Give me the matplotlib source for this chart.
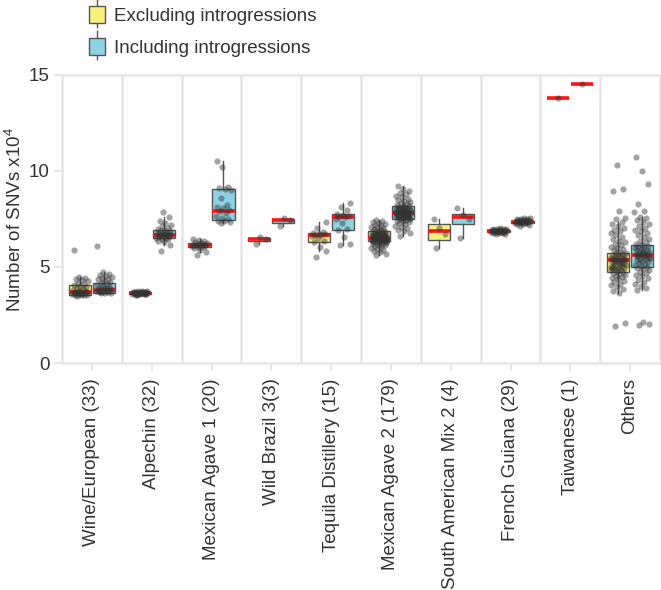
import numpy as np
import matplotlib.pyplot as plt
from matplotlib.lines import Line2D
from matplotlib.patches import Patch
from matplotlib.legend_handler import HandlerTuple

plt.rcParams['font.family'] = ['Liberation Sans', 'DejaVu Sans']
plt.rcParams['mathtext.fontset'] = 'custom'
plt.rcParams['mathtext.rm'] = 'Liberation Sans'

# Data (SNVs x10^4)
groups = ['Wine/European (33)', 'Alpechin (32)', 'Mexican Agave 1 (20)', 'Wild Brazil 3(3)',
          'Tequila Distillery (15)', 'Mexican Agave 2 (179)', 'South American Mix 2 (4)',
          'French Guiana (29)', 'Taiwanese (1)', 'Others']

# box stats: q1, median, q3, whisker low, whisker high
excl_q1 = [3.54, 3.60, 6.04, 6.35, 6.31, 6.33, 6.40, 6.83, 13.82, 4.73]
excl_med = [3.69, 3.65, 6.14, 6.45, 6.69, 6.53, 6.87, 6.88, 13.82, 5.34]
excl_q3 = [4.04, 3.70, 6.24, 6.53, 6.76, 6.87, 7.25, 6.93, 13.82, 5.75]
excl_lo = [3.50, 3.55, 5.78, 6.22, 5.81, 5.62, 5.98, 6.72, 13.82, 3.64]
excl_hi = [4.50, 3.75, 6.46, 6.58, 7.35, 7.47, 7.49, 7.02, 13.82, 7.34]

incl_q1 = [3.64, 6.50, 7.44, 7.28, 6.92, 7.49, 7.25, 7.30, 14.52, 5.00]
incl_med = [3.81, 6.69, 7.94, 7.44, 7.60, 7.80, 7.60, 7.35, 14.52, 5.63]
incl_q3 = [4.16, 6.94, 9.05, 7.51, 7.75, 8.20, 7.77, 7.40, 14.52, 6.14]
incl_lo = [3.62, 6.15, 7.30, 7.16, 6.15, 6.64, 6.50, 7.18, 14.52, 3.81]
incl_hi = [4.72, 7.58, 10.54, 7.56, 8.32, 9.22, 8.06, 7.52, 14.52, 7.63]

# individual strains
excl_points = [
    [3.50, 3.52, 3.53, 3.55, 3.56, 3.58, 3.59, 3.60, 3.62, 3.63, 3.64, 3.66, 3.67, 3.68, 3.69, 3.70, 3.72,
     3.74, 3.76, 3.80, 3.85, 3.90, 3.95, 4.00, 4.05, 4.10, 4.18, 4.25, 4.30, 4.38, 4.45, 4.50, 5.86],
    [3.55, 3.57, 3.58, 3.59, 3.60, 3.60, 3.61, 3.62, 3.62, 3.63, 3.63, 3.64, 3.64, 3.65, 3.65, 3.66, 3.66,
     3.67, 3.67, 3.68, 3.68, 3.69, 3.70, 3.70, 3.71, 3.72, 3.73, 3.74, 3.75, 3.56, 3.61, 3.66],
    [5.62, 5.78, 5.90, 5.98, 6.02, 6.05, 6.08, 6.10, 6.12, 6.14, 6.15, 6.17, 6.19, 6.21, 6.24, 6.27, 6.32,
     6.36, 6.41, 6.46],
    [6.22, 6.47, 6.58],
    [5.53, 5.81, 6.05, 6.30, 6.35, 6.50, 6.62, 6.68, 6.69, 6.70, 6.72, 6.75, 6.80, 7.05, 7.35],
    [5.62, 5.70, 5.78, 5.85, 5.90, 5.95, 6.00, 6.04, 6.08, 6.12, 6.15, 6.18, 6.21, 6.24, 6.27, 6.30, 6.32,
     6.34, 6.35, 6.37, 6.38, 6.40, 6.41, 6.42, 6.43, 6.44, 6.45, 6.46, 6.47, 6.48, 6.49, 6.50, 6.51, 6.52,
     6.53, 6.54, 6.55, 6.56, 6.57, 6.58, 6.59, 6.60, 6.62, 6.63, 6.65, 6.66, 6.68, 6.70, 6.72, 6.74, 6.76,
     6.78, 6.80, 6.82, 6.85, 6.87, 6.90, 6.94, 6.98, 7.02, 7.06, 7.10, 7.15, 7.20, 7.25, 7.30, 7.36, 7.42,
     7.47, 6.36, 6.46, 6.52, 6.61, 6.71, 6.39, 6.44, 6.49, 6.55, 6.58, 6.64, 6.69, 6.75, 6.33, 6.50],
    [5.98, 6.70, 7.05, 7.49],
    [6.72, 6.74, 6.76, 6.78, 6.79, 6.80, 6.81, 6.82, 6.83, 6.84, 6.85, 6.86, 6.86, 6.87, 6.88, 6.88, 6.89,
     6.90, 6.90, 6.91, 6.92, 6.93, 6.94, 6.95, 6.96, 6.97, 6.98, 7.00, 7.02],
    [13.82],
    [1.93, 2.10, 3.64, 3.75, 3.85, 3.95, 4.05, 4.12, 4.20, 4.28, 4.35, 4.42, 4.48, 4.54, 4.60, 4.65, 4.70,
     4.73, 4.77, 4.82, 4.86, 4.90, 4.94, 4.98, 5.02, 5.06, 5.10, 5.13, 5.16, 5.19, 5.22, 5.25, 5.28, 5.31,
     5.34, 5.36, 5.38, 5.40, 5.43, 5.46, 5.49, 5.52, 5.55, 5.58, 5.61, 5.64, 5.68, 5.72, 5.75, 5.80, 5.86,
     5.92, 5.98, 6.05, 6.12, 6.20, 6.28, 6.36, 6.45, 6.55, 6.65, 6.75, 6.85, 6.95, 7.05, 7.15, 7.25, 7.34,
     7.50, 7.55, 7.92, 8.95, 9.05, 10.32, 5.00, 5.20, 5.30, 5.40, 4.85, 4.95],
]
incl_points = [
    [3.62, 3.64, 3.66, 3.68, 3.70, 3.72, 3.73, 3.75, 3.77, 3.78, 3.80, 3.81, 3.83, 3.85, 3.88, 3.90, 3.93,
     3.96, 4.00, 4.05, 4.10, 4.15, 4.20, 4.28, 4.35, 4.40, 4.45, 4.50, 4.55, 4.60, 4.65, 4.72, 6.07],
    [5.84, 6.15, 6.30, 6.38, 6.45, 6.48, 6.50, 6.53, 6.56, 6.59, 6.62, 6.64, 6.66, 6.68, 6.69, 6.70, 6.72,
     6.74, 6.76, 6.79, 6.82, 6.86, 6.90, 6.94, 6.98, 7.05, 7.12, 7.20, 7.30, 7.42, 7.58, 7.89],
    [7.30, 7.33, 7.38, 7.42, 7.48, 7.55, 7.65, 7.80, 7.90, 7.98, 8.05, 8.15, 8.25, 8.60, 9.00, 9.05, 9.10,
     9.15, 10.20, 10.54],
    [7.16, 7.44, 7.56],
    [6.15, 6.22, 6.55, 6.92, 7.00, 7.30, 7.50, 7.60, 7.62, 7.68, 7.72, 7.78, 7.95, 8.10, 8.32],
    [6.64, 6.75, 6.85, 6.95, 7.02, 7.10, 7.16, 7.22, 7.28, 7.33, 7.38, 7.42, 7.46, 7.49, 7.52, 7.55, 7.58,
     7.60, 7.62, 7.64, 7.66, 7.68, 7.70, 7.72, 7.74, 7.76, 7.78, 7.80, 7.81, 7.83, 7.85, 7.87, 7.89, 7.91,
     7.93, 7.95, 7.98, 8.00, 8.03, 8.06, 8.09, 8.12, 8.15, 8.18, 8.20, 8.24, 8.28, 8.33, 8.38, 8.44, 8.50,
     8.56, 8.62, 8.70, 8.78, 8.86, 8.95, 9.05, 9.22, 7.71, 7.79, 7.84, 7.92, 8.02, 7.57, 7.65, 7.75, 7.82,
     7.88, 7.96, 8.08, 7.68, 7.61, 7.53],
    [6.50, 7.50, 7.70, 8.06],
    [7.13, 7.18, 7.22, 7.25, 7.27, 7.29, 7.30, 7.31, 7.32, 7.33, 7.34, 7.35, 7.35, 7.36, 7.37, 7.38, 7.39,
     7.40, 7.41, 7.42, 7.43, 7.44, 7.45, 7.46, 7.48, 7.50, 7.52, 7.54, 7.56],
    [14.52],
    [1.97, 2.05, 2.12, 3.81, 3.92, 4.02, 4.12, 4.22, 4.32, 4.42, 4.52, 4.60, 4.68, 4.75, 4.82, 4.88, 4.94,
     5.00, 5.05, 5.10, 5.15, 5.20, 5.25, 5.30, 5.35, 5.40, 5.44, 5.48, 5.52, 5.56, 5.60, 5.63, 5.66, 5.70,
     5.74, 5.78, 5.82, 5.86, 5.90, 5.94, 5.98, 6.02, 6.06, 6.10, 6.14, 6.20, 6.28, 6.36, 6.45, 6.55, 6.65,
     6.75, 6.85, 6.95, 7.05, 7.15, 7.25, 7.35, 7.45, 7.55, 7.63, 7.89, 7.92, 8.29, 9.31, 10.0, 10.75,
     5.62, 5.68, 5.45, 5.80, 5.55],
]

yellow = '#fcf07c'
blue = '#8dd3e5'
edge = '#555555'
grid = '#e6e6e6'
txt = '#333333'

fig = plt.figure(figsize=(6.61, 5.9), dpi=100)
ax = fig.add_axes([62 / 661, 1 - 363 / 590, 598 / 661, 288 / 590])

x = np.arange(1, len(groups) + 1)
dodge = 0.2
width = 0.37


def stats(q1, med, q3, lo, hi):
    return [dict(q1=a, med=b, q3=c, whislo=d, whishi=e, fliers=[])
            for a, b, c, d, e in zip(q1, med, q3, lo, hi)]


for st, pos, col in [(stats(excl_q1, excl_med, excl_q3, excl_lo, excl_hi), x - dodge, yellow),
                     (stats(incl_q1, incl_med, incl_q3, incl_lo, incl_hi), x + dodge, blue)]:
    ax.bxp(st, positions=pos, widths=width, showfliers=False, showcaps=False,
           patch_artist=True,
           boxprops=dict(facecolor=col, edgecolor=edge, linewidth=1.0),
           whiskerprops=dict(color=edge, linewidth=1.0),
           medianprops=dict(color='#ff1414', linewidth=2.6, solid_capstyle='butt'),
           zorder=2)

# jittered points (deterministic spread)
jw = 0.13
for pts_list, shift in [(excl_points, -dodge), (incl_points, dodge)]:
    for i, pts in enumerate(pts_list):
        n = len(pts)
        off = ((np.arange(n) * 0.618034 + 0.31) % 1 - 0.5) * 2 * jw
        if n == 1:
            off = np.zeros(1)
        ax.scatter(x[i] + shift + off, pts, s=20, color='#333333', alpha=0.45,
                   linewidths=0, zorder=3)

for b in np.arange(1.5, len(groups), 1):
    ax.axvline(b, color=grid, lw=1.8, zorder=0)

ax.set_xlim(0.5, len(groups) + 0.5)
ax.set_ylim(0, 15)
ax.set_yticks([0, 5, 10, 15])
ax.set_xticks(x)
ax.set_xticklabels(groups, rotation=90, fontsize=13.5, color=txt)
ax.tick_params(axis='y', labelsize=13.5, labelcolor=txt, pad=3)
ax.tick_params(axis='x', pad=5)
ax.tick_params(axis='both', color=grid, length=6, width=1.4)
for s in ax.spines.values():
    s.set_color(grid)
    s.set_linewidth(1.8)
ax.set_ylabel('Number of SNVs x10$^4$', fontsize=13.5, color=txt)
ax.yaxis.set_label_coords(-0.062, 0.5)

handles = [(Line2D([], [], marker='|', color=edge, markersize=21, mew=1, ls='none'),
            Patch(facecolor=yellow, edgecolor=edge, linewidth=1.0)),
           (Line2D([], [], marker='|', color=edge, markersize=21, mew=1, ls='none'),
            Patch(facecolor=blue, edgecolor=edge, linewidth=1.0))]
fig.legend(handles, ['Excluding introgressions', 'Including introgressions'],
           handler_map={tuple: HandlerTuple(ndivide=1)},
           loc='upper left', bbox_to_anchor=(76 / 661, 1.012), frameon=False,
           fontsize=13.5, handlelength=0.85, handleheight=1.0, handletextpad=0.5,
           labelspacing=0.7, borderpad=0.2, labelcolor=txt)

fig.savefig('out.png', dpi=100)
